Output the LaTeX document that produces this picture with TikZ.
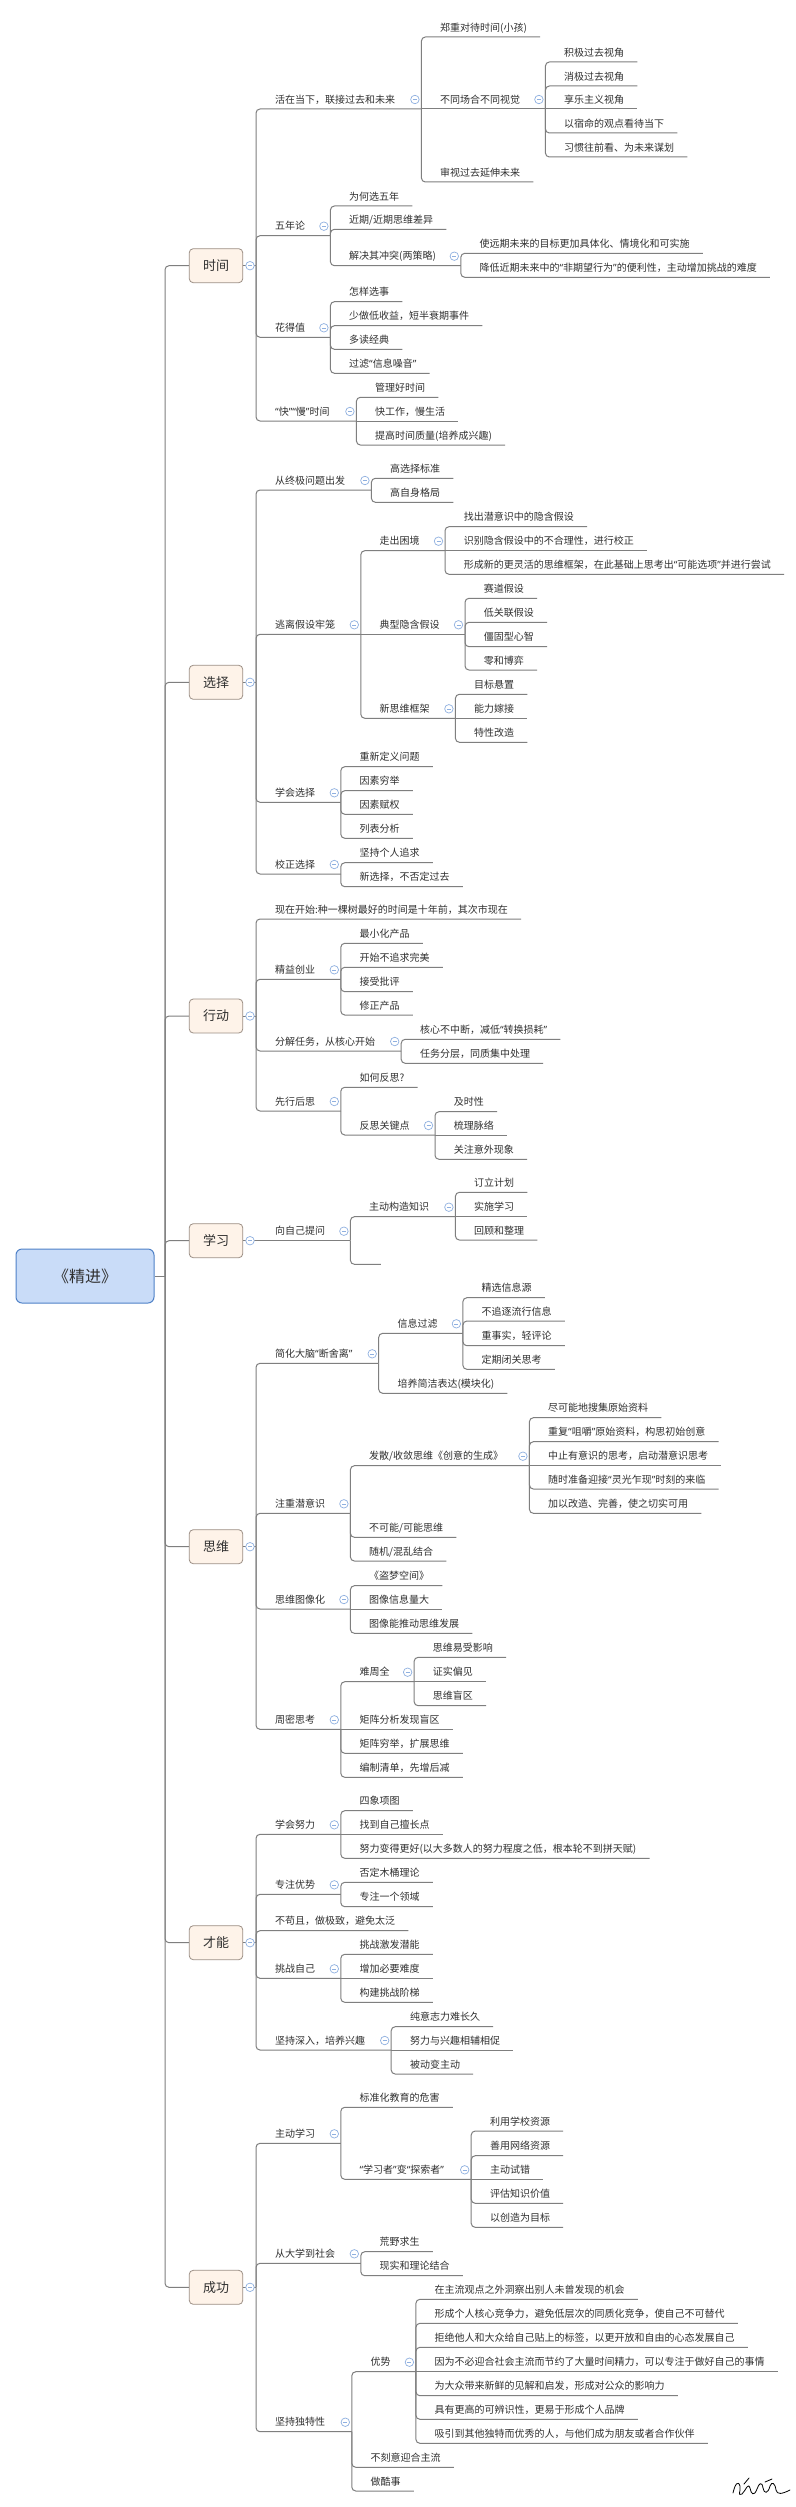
\documentclass[tikz,border=0pt]{standalone}
\usepackage{fontspec}
\newfontfamily\cjk{Noto Sans CJK SC}
\newfontfamily\lat{Noto Sans}
\newcommand\oq{{\lat“}}
\newcommand\cq{{\lat”}}
\definecolor{linegray}{HTML}{7F7F7F}
\definecolor{boxfill}{HTML}{FEF3E9}
\definecolor{boxborder}{HTML}{9C8F85}
\definecolor{rootfill}{HTML}{C9DCF8}
\definecolor{rootborder}{HTML}{4F81C7}
\definecolor{btnblue}{HTML}{8FB0E0}
\definecolor{txt}{HTML}{303030}
\tikzset{
  conn/.style={draw=linegray, line width=1pt},
  rc/.style={conn, rounded corners=4pt},
  mnode/.style={anchor=south west, inner xsep=0pt, inner ysep=5.7pt, text depth=0pt,
     font=\cjk\fontsize{10}{12}\selectfont, text=txt},
  branch/.style={draw=boxborder, fill=boxfill, rounded corners=4pt, line width=0.8pt,
     minimum width=53.5pt, minimum height=34pt, inner sep=0pt,
     font=\cjk\fontsize{13}{15}\selectfont, text=txt},
  rootbox/.style={draw=rootborder, fill=rootfill, rounded corners=6pt, line width=1pt,
     minimum width=138pt, minimum height=54pt, inner sep=0pt,
     font=\cjk\fontsize{16}{18}\selectfont, text=txt},
  colbtn/.style={circle, draw=btnblue, fill=white, minimum size=8.5pt, inner sep=0pt, line width=0.7pt,
     path picture={\draw[btnblue,line width=0.6pt] ([xshift=-2pt]path picture bounding box.center) -- ([xshift=2pt]path picture bounding box.center);}},
  sign/.style={draw=black, line width=0.8pt, line cap=round, line join=round}
}
% parent node: name, vx, underline y, child vertical x, text
\newcommand\pn[5]{\node[mnode] (#1) at (#2,#3) {\makebox[\dimexpr#4pt-#2pt\relax][l]{\hspace*{19pt}#5}};
  \node[colbtn] (#1-b) at ([shift={(-6.5,-9.5)}]#1.south east) {};}
% leaf node: name, vx, underline y, text
\newcommand\lf[4]{\node[mnode] (#1) at (#2,#3) {\hspace*{19pt}#4\hspace*{13pt}};}
\newcommand\ce[2]{\draw[rc] (#1.south east) |- (#2.south east);}
\newcommand\cs[2]{\draw[conn] (#1.south east) -- (#2.south east);}
\newcommand\bj[2]{\draw[rc] (#1) |- (#2.south east);}
\begin{document}
\begin{tikzpicture}[x=1pt,y=-1pt]
\fill[white] (0,0) rectangle (795,2507);
\useasboundingbox (0,0) rectangle (795,2507);

% ---------- root and branches
\node[rootbox] (root) at (85,1276) {《精进》};
\coordinate (RJ) at (165,1276);
\node[branch] (B1) at (216,265.7) {时间};
\node[branch] (B2) at (216,682.3) {选择};
\node[branch] (B3) at (216,1016) {行动};
\node[branch] (B4) at (216,1240.7) {学习};
\node[branch] (B5) at (216,1546.7) {思维};
\node[branch] (B6) at (216,1942.7) {才能};
\node[branch] (B7) at (216,2287.3) {成功};
\draw[conn] (root.east) -- (RJ);
\foreach \b in {B1,B2,B3,B4,B5,B6,B7} {\draw[rc] (RJ) |- (\b.west);}
\coordinate (J1) at (256,265.7);
\coordinate (J2) at (256,682.3);
\coordinate (J3) at (256,1016);
\coordinate (J4) at (256,1240.7);
\coordinate (J5) at (256,1546.7);
\coordinate (J6) at (256,1942.7);
\coordinate (J7) at (256,2287.3);
\foreach \i in {1,...,7} {\draw[conn] (B\i.east) -- (J\i);}

% ---------- 时间
\pn{a1}{256}{109}{421}{活在当下，联接过去和未来}
\lf{a11}{421}{37}{郑重对待时间(小孩)}
\pn{a12}{421}{109}{545}{不同场合不同视觉}
\lf{a121}{545}{62}{积极过去视角}
\lf{a122}{545}{86}{消极过去视角}
\lf{a123}{545}{109}{享乐主义视角}
\lf{a124}{545}{133}{以宿命的观点看待当下}
\lf{a125}{545}{157}{习惯往前看、为未来谋划}
\lf{a13}{421}{182}{审视过去延伸未来}
\pn{a2}{256}{235.7}{330}{五年论}
\lf{a21}{330}{206}{为何选五年}
\lf{a22}{330}{229.3}{近期/近期思维差异}
\pn{a23}{330}{265.7}{460.4}{解决其冲突(两策略)}
\lf{a231}{460.4}{253.3}{使远期未来的目标更加具体化、情境化和可实施}
\lf{a232}{460.4}{277.3}{降低近期未来中的\oq 非期望行为\cq 的便利性，主动增加挑战的难度}
\pn{a3}{256}{337.3}{330}{花得值}
\lf{a31}{330}{301.7}{怎样选事}
\lf{a32}{330}{325.7}{少做低收益，短半衰期事件}
\lf{a33}{330}{349.3}{多读经典}
\lf{a34}{330}{373.3}{过滤\oq 信息噪音\cq}
\pn{a4}{256}{421}{356}{\oq 快\cq\oq 慢\cq 时间}
\lf{a41}{356}{397.3}{管理好时间}
\lf{a42}{356}{421}{快工作，慢生活}
\lf{a43}{356}{445}{提高时间质量(培养成兴趣)}
\bj{J1}{a1}\bj{J1}{a2}\bj{J1}{a3}\bj{J1}{a4}
\ce{a1}{a11}\cs{a1}{a12}\ce{a1}{a13}
\ce{a12}{a121}\ce{a12}{a122}\cs{a12}{a123}\ce{a12}{a124}\ce{a12}{a125}
\ce{a2}{a21}\ce{a2}{a22}\ce{a2}{a23}
\ce{a23}{a231}\ce{a23}{a232}
\ce{a3}{a31}\ce{a3}{a32}\ce{a3}{a33}\ce{a3}{a34}
\ce{a4}{a41}\cs{a4}{a42}\ce{a4}{a43}

% ---------- 选择
\pn{b1}{256}{490}{371}{从终极问题出发}
\lf{b11}{371}{478.3}{高选择标准}
\lf{b12}{371}{502.3}{高自身格局}
\pn{b2}{256}{634.3}{360.4}{逃离假设牢笼}
\pn{b21}{360.4}{550.7}{444.6}{走出困境}
\lf{b211}{444.6}{526.7}{找出潜意识中的隐含假设}
\lf{b212}{444.6}{550.7}{识别隐含假设中的不合理性，进行校正}
\lf{b213}{444.6}{574.3}{形成新的更灵活的思维框架，在此基础上思考出\oq 可能选项\cq 并进行尝试}
\pn{b22}{360.4}{634.3}{464.6}{典型隐含假设}
\lf{b221}{464.6}{598.3}{赛道假设}
\lf{b222}{464.6}{622.3}{低关联假设}
\lf{b223}{464.6}{646.7}{僵固型心智}
\lf{b224}{464.6}{670}{零和博弈}
\pn{b23}{360.4}{718.3}{455}{新思维框架}
\lf{b231}{455}{694.3}{目标悬置}
\lf{b232}{455}{718.3}{能力嫁接}
\lf{b233}{455}{742.3}{特性改造}
\pn{b3}{256}{802.3}{340.4}{学会选择}
\lf{b31}{340.4}{766.7}{重新定义问题}
\lf{b32}{340.4}{790.7}{因素穷举}
\lf{b33}{340.4}{814.3}{因素赋权}
\lf{b34}{340.4}{838.3}{列表分析}
\pn{b4}{256}{874}{340.4}{校正选择}
\lf{b41}{340.4}{862.7}{坚持个人追求}
\lf{b42}{340.4}{886.7}{新选择，不否定过去}
\bj{J2}{b1}\bj{J2}{b2}\bj{J2}{b3}\bj{J2}{b4}
\ce{b1}{b11}\ce{b1}{b12}
\ce{b2}{b21}\cs{b2}{b22}\ce{b2}{b23}
\ce{b21}{b211}\cs{b21}{b212}\ce{b21}{b213}
\ce{b22}{b221}\ce{b22}{b222}\ce{b22}{b223}\ce{b22}{b224}
\ce{b23}{b231}\cs{b23}{b232}\ce{b23}{b233}
\ce{b3}{b31}\ce{b3}{b32}\ce{b3}{b33}\ce{b3}{b34}
\ce{b4}{b41}\ce{b4}{b42}

% ---------- 行动
\lf{c1}{256}{919}{现在开始:种一棵树最好的时间是十年前，其次市现在}
\pn{c2}{256}{979.3}{340.4}{精益创业}
\lf{c21}{340.4}{943.3}{最小化产品}
\lf{c22}{340.4}{967.3}{开始不追求完美}
\lf{c23}{340.4}{991.7}{接受批评}
\lf{c24}{340.4}{1015}{修正产品}
\pn{c3}{256}{1051}{400.8}{分解任务，从核心开始}
\lf{c31}{400.8}{1039.3}{核心不中断，减低\oq 转换损耗\cq}
\lf{c32}{400.8}{1063.3}{任务分层，同质集中处理}
\pn{c4}{256}{1111}{340.4}{先行后思}
\lf{c41}{340.4}{1087.3}{如何反思?}
\pn{c42}{340.4}{1135}{434.6}{反思关键点}
\lf{c421}{434.6}{1111.7}{及时性}
\lf{c422}{434.6}{1135}{梳理脉络}
\lf{c423}{434.6}{1159.3}{关注意外现象}
\bj{J3}{c1}\bj{J3}{c2}\bj{J3}{c3}\bj{J3}{c4}
\ce{c2}{c21}\ce{c2}{c22}\ce{c2}{c23}\ce{c2}{c24}
\ce{c3}{c31}\ce{c3}{c32}
\ce{c4}{c41}\ce{c4}{c42}
\ce{c42}{c421}\cs{c42}{c422}\ce{c42}{c423}

% ---------- 学习
\pn{d1}{256}{1240.7}{350}{向自己提问}
\pn{d11}{350}{1216.7}{455}{主动构造知识}
\lf{d111}{455}{1192.3}{订立计划}
\lf{d112}{455}{1216.7}{实施学习}
\lf{d113}{455}{1240}{回顾和整理}
\node[mnode, minimum width=30.4pt] (d12) at (350,1264.3) {};
\draw[conn] (J4) -- (d1.south east);
\ce{d1}{d11}\ce{d1}{d12}
\ce{d11}{d111}\cs{d11}{d112}\ce{d11}{d113}

% ---------- 思维
\pn{e1}{256}{1363.3}{378.3}{简化大脑\oq 断舍离\cq}
\pn{e11}{378.3}{1333.3}{462.5}{信息过滤}
\lf{e111}{462.5}{1297.7}{精选信息源}
\lf{e112}{462.5}{1321}{不追逐流行信息}
\lf{e113}{462.5}{1345.7}{重事实，轻评论}
\lf{e114}{462.5}{1369.3}{定期闭关思考}
\lf{e12}{378.3}{1393.3}{培养简洁表达(模块化)}
\pn{e2}{256}{1513.3}{350}{注重潜意识}
\pn{e21}{350}{1465.7}{529}{发散/收敛思维《创意的生成》}
\lf{e211}{529}{1417.7}{尽可能地搜集原始资料}
\lf{e212}{529}{1441.7}{重复\oq 咀嚼\cq 原始资料，构思初始创意}
\lf{e213}{529}{1465.7}{中止有意识的思考，启动潜意识思考}
\lf{e214}{529}{1489}{随时准备迎接\oq 灵光乍现\cq 时刻的来临}
\lf{e215}{529}{1513.3}{加以改造、完善，使之切实可用}
\lf{e22}{350}{1537.3}{不可能/可能思维}
\lf{e23}{350}{1561}{随机/混乱结合}
\pn{e3}{256}{1609}{350}{思维图像化}
\lf{e31}{350}{1585.7}{《盗梦空间》}
\lf{e32}{350}{1609}{图像信息量大}
\lf{e33}{350}{1633.3}{图像能推动思维发展}
\pn{e4}{256}{1729.3}{340.4}{周密思考}
\pn{e41}{340.4}{1681.7}{413.75}{难周全}
\lf{e411}{413.75}{1657.3}{思维易受影响}
\lf{e412}{413.75}{1681.7}{证实偏见}
\lf{e413}{413.75}{1705.7}{思维盲区}
\lf{e42}{340.4}{1729.3}{矩阵分析发现盲区}
\lf{e43}{340.4}{1753.3}{矩阵穷举，扩展思维}
\lf{e44}{340.4}{1777.3}{编制清单，先增后减}
\bj{J5}{e1}\bj{J5}{e2}\bj{J5}{e3}\bj{J5}{e4}
\ce{e1}{e11}\ce{e1}{e12}
\ce{e11}{e111}\ce{e11}{e112}\ce{e11}{e113}\ce{e11}{e114}
\ce{e2}{e21}\ce{e2}{e22}\ce{e2}{e23}
\ce{e21}{e211}\ce{e21}{e212}\cs{e21}{e213}\ce{e21}{e214}\ce{e21}{e215}
\ce{e3}{e31}\cs{e3}{e32}\ce{e3}{e33}
\ce{e4}{e41}\cs{e4}{e42}\ce{e4}{e43}\ce{e4}{e44}
\ce{e41}{e411}\cs{e41}{e412}\ce{e41}{e413}

% ---------- 才能
\pn{f1}{256}{1834.3}{340.4}{学会努力}
\lf{f11}{340.4}{1810.7}{四象项图}
\lf{f12}{340.4}{1834.3}{找到自己擅长点}
\lf{f13}{340.4}{1858.3}{努力变得更好(以大多数人的努力程度之低，根本轮不到拼天赋)}
\pn{f2}{256}{1894.3}{340.4}{专注优势}
\lf{f21}{340.4}{1882.3}{否定木桶理论}
\lf{f22}{340.4}{1906.7}{专注一个领域}
\lf{f3}{256}{1930.7}{不苟且，做极致，避免太泛}
\pn{f4}{256}{1978.3}{340.4}{挑战自己}
\lf{f41}{340.4}{1954.3}{挑战激发潜能}
\lf{f42}{340.4}{1978.3}{增加必要难度}
\lf{f43}{340.4}{2002.3}{构建挑战阶梯}
\pn{f5}{256}{2050}{390.8}{坚持深入，培养兴趣}
\lf{f51}{390.8}{2026.7}{纯意志力难长久}
\lf{f52}{390.8}{2050}{努力与兴趣相辅相促}
\lf{f53}{390.8}{2074}{被动变主动}
\bj{J6}{f1}\bj{J6}{f2}\bj{J6}{f3}\bj{J6}{f4}\bj{J6}{f5}
\ce{f1}{f11}\cs{f1}{f12}\ce{f1}{f13}
\ce{f2}{f21}\ce{f2}{f22}
\ce{f4}{f41}\cs{f4}{f42}\ce{f4}{f43}
\ce{f5}{f51}\cs{f5}{f52}\ce{f5}{f53}

% ---------- 成功
\pn{g1}{256}{2143.3}{340.4}{主动学习}
\lf{g11}{340.4}{2107.3}{标准化教育的危害}
\pn{g12}{340.4}{2179.3}{470.8}{\oq 学习者\cq 变\oq 探索者\cq}
\lf{g121}{470.8}{2131}{利用学校资源}
\lf{g122}{470.8}{2155.7}{善用网络资源}
\lf{g123}{470.8}{2179.3}{主动试错}
\lf{g124}{470.8}{2203.3}{评估知识价值}
\lf{g125}{470.8}{2227.3}{以创造为目标}
\pn{g2}{256}{2263.3}{360.4}{从大学到社会}
\lf{g21}{360.4}{2251.7}{荒野求生}
\lf{g22}{360.4}{2275.7}{现实和理论结合}
\pn{g3}{256}{2431.7}{351.4}{坚持独特性}
\pn{g31}{351.4}{2371.7}{415.5}{优势}
\lf{g311}{415.5}{2299.3}{在主流观点之外洞察出别人未曾发现的机会}
\lf{g312}{415.5}{2323.3}{形成个人核心竞争力，避免低层次的同质化竞争，使自己不可替代}
\lf{g313}{415.5}{2347.3}{拒绝他人和大众给自己贴上的标签，以更开放和自由的心态发展自己}
\lf{g314}{415.5}{2371.7}{因为不必迎合社会主流而节约了大量时间精力，可以专注于做好自己的事情}
\lf{g315}{415.5}{2395.7}{为大众带来新鲜的见解和启发，形成对公众的影响力}
\lf{g316}{415.5}{2419.3}{具有更高的可辨识性，更易于形成个人品牌}
\lf{g317}{415.5}{2443.3}{吸引到其他独特而优秀的人，与他们成为朋友或者合作伙伴}
\lf{g32}{351.4}{2467.3}{不刻意迎合主流}
\lf{g33}{351.4}{2491}{做酷事}
\bj{J7}{g1}\bj{J7}{g2}\bj{J7}{g3}
\ce{g1}{g11}\ce{g1}{g12}
\ce{g12}{g121}\ce{g12}{g122}\cs{g12}{g123}\ce{g12}{g124}\ce{g12}{g125}
\ce{g2}{g21}\ce{g2}{g22}
\ce{g3}{g31}\ce{g3}{g32}\ce{g3}{g33}
\ce{g31}{g311}\ce{g31}{g312}\ce{g31}{g313}\cs{g31}{g314}\ce{g31}{g315}\ce{g31}{g316}\ce{g31}{g317}

% ---------- branch collapse buttons
\foreach \i/\y in {1/265.7,2/682.3,3/1016,4/1240.7,5/1546.7,6/1942.7,7/2287.3}
  {\node[colbtn] (B\i-b) at (250,\y) {};}

% ---------- signature (handwritten mark, bottom right)
\draw[sign] (733,2493) .. controls (735,2484) and (738,2480) .. (740,2486)
  .. controls (741,2492) and (737,2496) .. (742,2494)
  .. controls (746,2490) and (748,2482) .. (750,2488)
  .. controls (751,2494) and (754,2497) .. (757,2489)
  .. controls (759,2483) and (762,2481) .. (763,2488)
  .. controls (764,2494) and (768,2494) .. (770,2486)
  .. controls (772,2481) and (775,2483) .. (776,2490)
  .. controls (777,2495) and (782,2494) .. (790,2490);
\draw[sign] (744,2484) -- (749,2478);
\draw[sign] (765,2482) -- (772,2479);
\end{tikzpicture}
\end{document}
